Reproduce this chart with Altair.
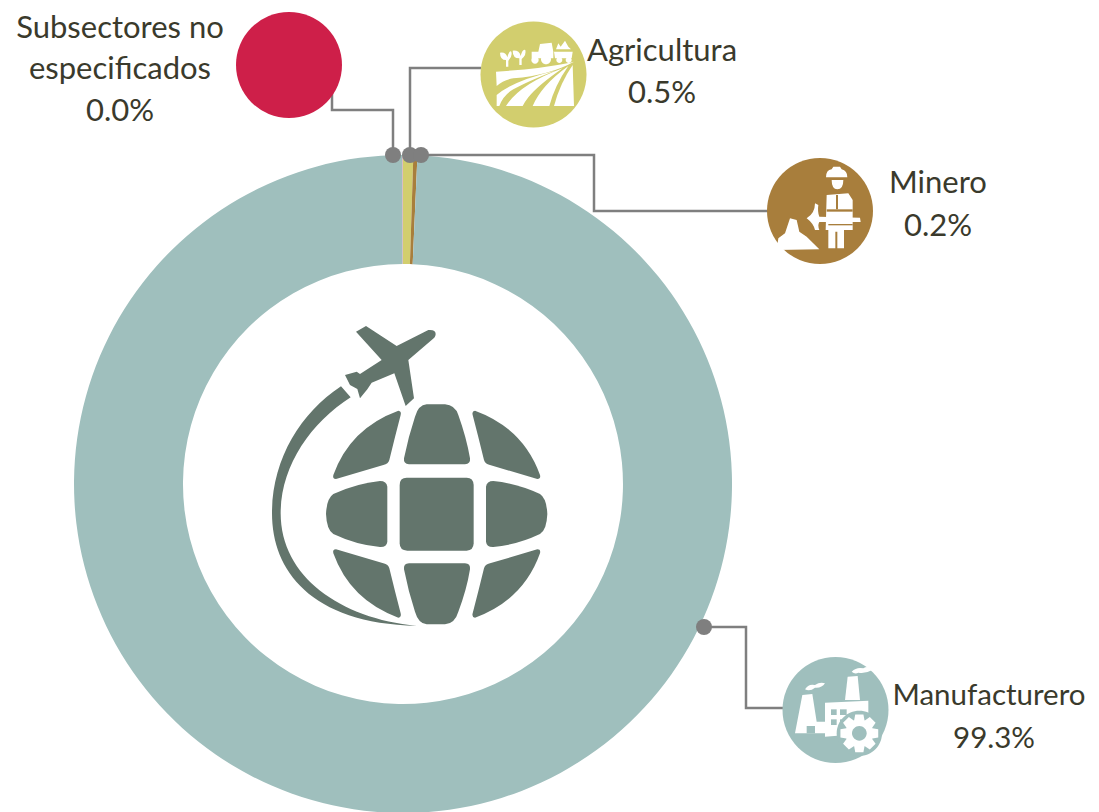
import math
import altair as alt
import pandas as pd

# ---- values ----
sectors = ["Agricultura", "Minero", "Manufacturero", "Subsectores no especificados"]
shares = [0.5, 0.2, 99.3, 0.03]
sector_colors = ["#D2CE6E", "#A87E3C", "#9FBFBD", "#DBA3AE"]

badge_x = [289, 533.5, 820, 835.5]
badge_y = [65, 74.5, 211, 710]
badge_colors = ["#CE1F49", "#D2CE6E", "#A87E3C", "#9FBFBD"]

dot_x = [393, 410, 421, 704]
dot_y = [155, 155, 155, 627]

lead_id = ["s", "s", "s", "s", "a", "a", "a", "m", "m", "m", "m", "f", "f", "f", "f"]
lead_x = [332, 332, 393, 393, 481, 410, 410, 421, 594, 594, 768, 704, 746, 746, 784]
lead_y = [92, 110, 110, 155, 68, 68, 155, 155, 155, 211, 211, 627, 627, 708, 708]

label_text = ["Subsectores no", "especificados", "0.0%", "Agricultura", "0.5%",
              "Minero", "0.2%"]
label_x = [120, 120, 120, 662, 662, 938, 938]
label_y = [29, 70, 112, 52, 94, 184, 227]

edge_label_text = ["Manufacturero", "99.3%"]
edge_label_x = [989, 994]
edge_label_y = [696, 739]

TEXT = "#3A3A2C"
GRAY = "#7F7F7F"
GLOBE = "#63756C"
WHITE = "#FFFFFF"
TEAL = "#9FBFBD"
BROWN = "#A87E3C"

# ---- icon outlines (symbol paths) ----
def circ(cx, cy, r):
    return f"M{cx-r} {cy}a{r} {r} 0 1 0 {2*r} 0a{r} {r} 0 1 0 {-2*r} 0Z"

def gear(cx, cy, ro, ri, n=8):
    pts = []
    step = 2 * math.pi / n
    for i in range(n):
        a = i * step
        for da, r in [(-0.30, ri), (-0.17, ro), (0.17, ro), (0.30, ri)]:
            pts.append((cx + r * math.cos(a + da * step * 1.6), cy + r * math.sin(a + da * step * 1.6)))
    return "M" + "L".join(f"{x:.1f} {y:.1f}" for x, y in pts) + "Z"

globe_paths = [
    "M440 503L620 503Q640 503 641 525L641 700Q640 722 620 722L442 722Q419 722 419 700L419 525Q419 503 440 503Z",
    "M500 283L555 283Q585 285 595 315Q620 385 630 445Q632 462 615 463L447 463Q430 462 432 445Q445 380 465 320Q475 285 500 283Z",
    "M447 760L615 760Q632 760 630 778Q620 840 595 905Q585 940 555 943L500 943Q475 940 465 905Q445 845 432 778Q430 760 447 760Z",
    "M415 302Q425 303 422 315Q405 380 388 450Q385 462 370 465L228 507Q217 507 220 495Q270 355 415 302Z",
    "M645 302Q635 303 638 315Q655 380 672 450Q675 462 690 465L832 507Q843 507 840 495Q790 355 645 302Z",
    "M415 923Q425 922 422 910Q405 845 388 775Q385 763 370 760L228 718Q217 718 220 730Q270 870 415 923Z",
    "M645 923Q635 922 638 910Q655 845 672 775Q675 763 690 760L832 718Q843 718 840 730Q790 870 645 923Z",
    "M360 513Q380 513 382 530L382 695Q380 712 360 711Q290 705 220 672Q200 660 198 612Q200 565 220 552Q290 520 360 513Z",
    "M700 513Q680 513 678 530L678 695Q680 712 700 711Q770 705 840 672Q860 660 862 612Q860 565 840 552Q770 520 700 513Z",
    "M243 229C120 310 36 450 36 610C36 780 150 940 470 948C240 925 62 800 62 610C62 470 150 340 272 262Z",
    "M505 60Q527 58 527 72Q527 82 515 90L445 150L462 265L437 288L403 190L335 218L322 238L300 265L292 237L270 225L255 195L290 185L300 192L365 150L288 65L318 48L410 108Z",
]
agri_paths = [
    "M78 185Q200 178 300 158L312 155Q240 195 130 205Q100 210 80 228Z",
    "M80 255Q130 212 255 182Q170 215 130 238Q100 255 88 288L80 288Z",
    "M108 288Q150 222 278 175Q205 225 175 262Q165 275 158 288Z",
    "M188 288Q215 225 295 168Q255 225 238 288Z",
    "M252 288Q270 220 308 165L312 288Z",
    "M108 170L108 150Q90 150 90 128Q108 125 112 142Q118 120 124 125Q128 140 115 152L115 170Z",
    "M148 165L148 145Q128 145 128 122Q148 120 152 138Q158 115 166 120Q170 135 155 147L155 165Z",
    "M185 125L205 125L210 102L245 98L250 125L250 145L185 145Z",
    circ(195, 150, 11), circ(228, 148, 15),
    "M252 125L308 125L305 145L255 145Z",
    "M258 118L265 100L272 110L285 92L295 110L303 118Z",
    circ(268, 150, 9), circ(296, 150, 9),
]
miner_paths = [
    "M198 82Q198 60 215 58L220 50L240 50L245 58Q262 62 262 82Z",
    "M215 90L250 90Q250 118 232 118Q215 118 215 90Z",
    "M200 135L265 130L278 150L278 240L252 240L252 295L232 295L232 245L226 245L226 295L205 295L205 240L197 240Z",
    "M140 205Q165 190 165 160L175 165Q172 185 178 200L300 203L302 216L178 216Q172 225 178 240L165 240Q160 220 140 205Z",
    "M50 300L55 265L75 250L90 205L110 210L118 245L140 260L178 298Z",
]
miner_cuts = [
    "M200 178L278 178L278 185L200 185Z",
    "M228 135L234 135L234 178L228 178Z",
    "M205 222L278 222L278 226L205 226Z",
]
factory_paths = [
    "M82 135L112 132L125 215L150 215L150 250L60 250Z",
    "M90 118Q100 100 120 105Q135 95 150 100Q140 115 120 113Q105 125 90 118Z",
    "M218 80L248 78L255 150L210 150Z",
    "M230 65Q245 50 265 55Q280 45 292 60Q270 72 250 68Q240 74 230 65Z",
    "M150 158L280 152L280 250L150 260Z",
]
factory_cuts = [
    "M95 228L120 228L120 250L95 250Z",
    "M168 178L185 178L185 195L168 195Z", "M195 178L215 178L215 195L195 195Z",
    "M168 208L185 208L185 225L168 225Z", "M195 208L215 208L215 225L195 225Z",
    circ(253, 250, 68),
]

rows = []
def add(anchor, paths, fill):
    for p in paths:
        rows.append({"x": anchor[0], "y": anchor[1], "path": p, "fill": fill})

add((260, 310), globe_paths, GLOBE)
add((470, 10), agri_paths, WHITE)
add((760, 150), miner_paths, WHITE)
add((760, 150), miner_cuts, BROWN)
add((775, 650), factory_paths, WHITE)
add((775, 650), factory_cuts, TEAL)
add((775, 650), [gear(253, 250, 58, 42)], WHITE)
add((775, 650), [circ(253, 250, 22)], TEAL)
icons = pd.DataFrame(rows)

# ---- tables ----
cum = [sum(shares[:i]) for i in range(len(shares) + 1)]
ring = pd.DataFrame({
    "sector": sectors, "start": cum[:-1], "end": cum[1:], "color": sector_colors,
    "x": [403] * 4, "y": [484] * 4,
})
badges = pd.DataFrame({"x": badge_x, "y": badge_y, "color": badge_colors})
dots = pd.DataFrame({"x": dot_x, "y": dot_y})
leads = pd.DataFrame({"id": lead_id, "x": lead_x, "y": lead_y, "i": range(len(lead_x))})
labels = pd.DataFrame({"text": label_text, "x": label_x, "y": label_y})
edge_labels = pd.DataFrame({"text": edge_label_text, "x": edge_label_x, "y": edge_label_y})

# ---- scales: domain is the page in pixels ----
W, H = 1083, 804
xs = alt.Scale(domain=[8, 8 + W], nice=False, zero=False)
ys = alt.Scale(domain=[8 + H, 8], nice=False, zero=False)
X = alt.X("x:Q", scale=xs, axis=None)
Y = alt.Y("y:Q", scale=ys, axis=None)

donut = alt.Chart(ring).mark_arc(innerRadius=220, outerRadius=329).encode(
    x=X, y=Y,
    theta=alt.Theta("start:Q", stack=None,
                    scale=alt.Scale(domain=[0, cum[-1]], range=[0, 2 * math.pi])),
    theta2=alt.Theta2("end:Q"),
    fill=alt.Fill("color:N", scale=None),
)
lines = alt.Chart(leads).mark_line(color=GRAY, strokeWidth=2.5).encode(
    x=X, y=Y, detail="id:N", order="i:Q")
dot_marks = alt.Chart(dots).mark_circle(color=GRAY, opacity=1, size=256).encode(x=X, y=Y)
badge_marks = alt.Chart(badges).mark_circle(opacity=1, size=11236).encode(
    x=X, y=Y, color=alt.Color("color:N", scale=None))
icon_marks = alt.Chart(icons).mark_point(filled=True, opacity=1, strokeWidth=0).encode(
    x=X, y=Y,
    shape=alt.Shape("path:N", scale=None),
    fill=alt.Fill("fill:N", scale=None),
    size=alt.value(4 / 9),
)
text_marks = alt.Chart(labels).mark_text(
    font="Lato", fontSize=31, color=TEXT, align="center", baseline="middle"
).encode(x=X, y=Y, text="text:N")
edge_text_marks = alt.Chart(edge_labels).mark_text(
    font="Lato", fontSize=29.5, color=TEXT, align="center", baseline="middle"
).encode(x=X, y=Y, text="text:N")

chart = alt.layer(donut, lines, dot_marks, badge_marks, icon_marks,
                  text_marks, edge_text_marks).properties(
    width=W, height=H, padding=0,
    autosize=alt.AutoSizeParams(type="none"),
    background="#FFFFFF",
).configure_view(stroke=None)

chart.save("out.html", embed_options={"renderer": "svg", "actions": False})
